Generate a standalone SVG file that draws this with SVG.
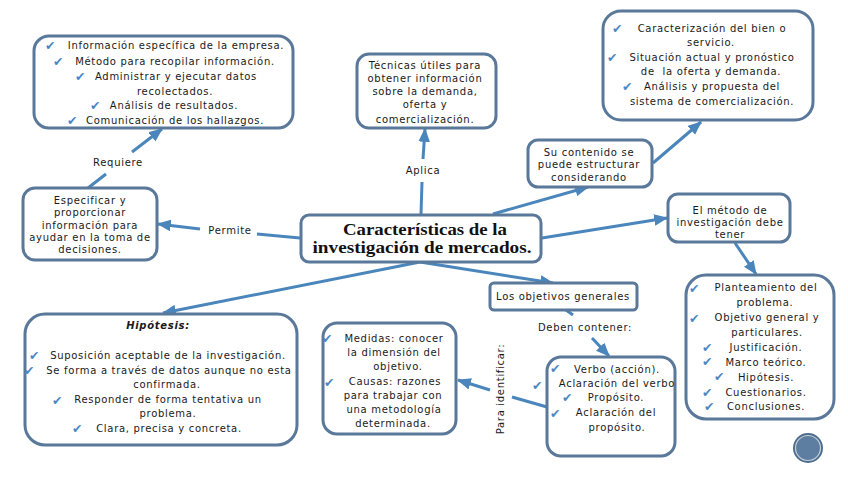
<svg xmlns="http://www.w3.org/2000/svg" width="848" height="477" viewBox="0 0 848 477">
<defs>
<marker id="ah" viewBox="0 0 12 10" refX="11" refY="5" markerWidth="14" markerHeight="12" markerUnits="userSpaceOnUse" orient="auto">
<path d="M0,0 L12,5 L0,10 Z" fill="#4a86bb"/>
</marker>
<style>
.box{fill:#fff;stroke:#5a789a;stroke-width:3}
.t{font-family:"DejaVu Sans","Open Sans",sans-serif;font-size:10px;letter-spacing:0.7px;fill:#1a1a1a;text-anchor:middle}
.ck{font-family:"DejaVu Sans",sans-serif;font-size:12.5px;fill:#4a86c5;font-style:italic}
.c{fill:none;stroke:#4a86bb;stroke-width:3}
.ttl{font-family:"Liberation Serif","DejaVu Serif",serif;font-size:17px;font-weight:bold;fill:#111;text-anchor:middle}
</style>
</defs>
<rect width="848" height="477" fill="#fff"/>

<g id="connectors">
<path class="c" d="M88,188 L106,174"/>
<path class="c" d="M132,152 L162,129" marker-end="url(#ah)"/>
<path class="c" d="M300,238 L257,234"/>
<path class="c" d="M200,229 L158,224" marker-end="url(#ah)"/>
<path class="c" d="M421,214 L422,182"/>
<path class="c" d="M423,159 L425,129" marker-end="url(#ah)"/>
<path class="c" d="M493,214 L588,187" marker-end="url(#ah)"/>
<path class="c" d="M653,163 L701,122" marker-end="url(#ah)"/>
<path class="c" d="M542,238 L667,218" marker-end="url(#ah)"/>
<path class="c" d="M735,243 L756,274" marker-end="url(#ah)"/>
<path class="c" d="M420,262 L553,283" marker-end="url(#ah)"/>
<path class="c" d="M420,262 L163,313" marker-end="url(#ah)"/>
<path class="c" d="M566,310 L573,315"/>
<path class="c" d="M592,338 L609,356" marker-end="url(#ah)"/>
<path class="c" d="M547,407 L512,397"/>
<path class="c" d="M490,390 L458,380" marker-end="url(#ah)"/>
<text class="t" x="118" y="166">Requiere</text>
<text class="t" x="230" y="234">Permite</text>
<text class="t" x="423" y="174">Aplica</text>
<text class="t" x="585" y="331">Deben contener:</text>
<text class="t" transform="translate(504,389) rotate(-90)">Para identificar:</text>
</g>

<g id="n-info">
<rect class="box" x="34" y="36" width="259" height="92" rx="15"/>
<text class="ck" x="45" y="50">✔</text>
<text class="ck" x="53" y="66">✔</text>
<text class="ck" x="75" y="81">✔</text>
<text class="ck" x="90" y="110">✔</text>
<text class="ck" x="67" y="125">✔</text>
<text class="t" x="176" y="49">Información específica de la empresa.</text>
<text class="t" x="175" y="65">Método para recopilar información.</text>
<text class="t" x="176" y="80">Administrar y ejecutar datos</text>
<text class="t" x="175" y="95">recolectados.</text>
<text class="t" x="174" y="109">Análisis de resultados.</text>
<text class="t" x="175" y="124">Comunicación de los hallazgos.</text>
</g>

<g id="n-tecnicas">
<rect class="box" x="357" y="54" width="139" height="74" rx="12"/>
<text class="t" x="425" y="69">Técnicas útiles para</text>
<text class="t" x="425" y="82">obtener información</text>
<text class="t" x="425" y="95">sobre la demanda,</text>
<text class="t" x="425" y="108">oferta y</text>
<text class="t" x="425" y="123">comercialización.</text>
</g>

<g id="n-caract">
<rect class="box" x="603" y="11" width="210" height="109" rx="18"/>
<text class="ck" x="612" y="33">✔</text>
<text class="ck" x="607" y="62">✔</text>
<text class="ck" x="622" y="91">✔</text>
<text class="t" x="712" y="32">Caracterización del bien o</text>
<text class="t" x="711" y="46">servicio.</text>
<text class="t" x="712" y="61">Situación actual y pronóstico</text>
<text class="t" x="711" y="75" xml:space="preserve">de  la oferta y demanda.</text>
<text class="t" x="712" y="90">Análisis y propuesta del</text>
<text class="t" x="712" y="105">sistema de comercialización.</text>
</g>

<g id="n-especificar">
<rect class="box" x="23" y="188" width="134" height="72" rx="12"/>
<text class="t" x="90" y="204">Especificar y</text>
<text class="t" x="90" y="216">proporcionar</text>
<text class="t" x="90" y="229">información para</text>
<text class="t" x="90" y="241">ayudar en la toma de</text>
<text class="t" x="90" y="253">decisiones.</text>
</g>

<g id="n-main">
<rect class="box" x="301" y="215" width="240" height="47" rx="8"/>
<text class="ttl" x="425" y="235" textLength="164" lengthAdjust="spacingAndGlyphs">Características de la</text>
<text class="ttl" x="422" y="253" textLength="219" lengthAdjust="spacingAndGlyphs">investigación de mercados.</text>
</g>

<g id="n-contenido">
<rect class="box" x="528" y="140" width="124" height="47" rx="10"/>
<text class="t" x="589" y="156">Su contenido se</text>
<text class="t" x="589" y="168">puede estructurar</text>
<text class="t" x="589" y="181">considerando</text>
</g>

<g id="n-metodo">
<rect class="box" x="668" y="194" width="122" height="48" rx="10"/>
<text class="t" x="730" y="214">El método de</text>
<text class="t" x="730" y="226">investigación debe</text>
<text class="t" x="730" y="238">tener</text>
</g>

<g id="n-objetivos">
<rect class="box" x="490" y="283" width="147" height="27" rx="4"/>
<text class="t" x="563" y="300">Los objetivos generales</text>
</g>

<g id="n-hipotesis">
<rect class="box" x="25" y="314" width="272" height="131" rx="20"/>
<text class="t" x="158" y="329" style="font-weight:bold;font-style:italic">Hipótesis:</text>
<text class="ck" x="29" y="360">✔</text>
<text class="ck" x="24" y="375">✔</text>
<text class="ck" x="52" y="405">✔</text>
<text class="ck" x="72" y="433">✔</text>
<text class="t" x="168" y="359">Suposición aceptable de la investigación.</text>
<text class="t" x="169" y="374">Se forma a través de datos aunque no esta</text>
<text class="t" x="167" y="388">confirmada.</text>
<text class="t" x="168" y="403">Responder de forma tentativa un</text>
<text class="t" x="168" y="417">problema.</text>
<text class="t" x="169" y="432">Clara, precisa y concreta.</text>
</g>

<g id="n-medidas">
<rect class="box" x="323" y="323" width="133" height="111" rx="14"/>
<text class="ck" x="322" y="343">✔</text>
<text class="ck" x="324" y="387">✔</text>
<text class="t" x="394" y="342">Medidas: conocer</text>
<text class="t" x="394" y="356">la dimensión del</text>
<text class="t" x="398" y="370">objetivo.</text>
<text class="t" x="395" y="385">Causas: razones</text>
<text class="t" x="393" y="399">para trabajar con</text>
<text class="t" x="394" y="413">una metodología</text>
<text class="t" x="393" y="427">determinada.</text>
</g>

<g id="n-verbo">
<rect class="box" x="547" y="357" width="128" height="99" rx="14"/>
<text class="ck" x="550" y="373">✔</text>
<text class="ck" x="532" y="390">✔</text>
<text class="ck" x="562" y="402">✔</text>
<text class="ck" x="550" y="418">✔</text>
<text class="t" x="617" y="373">Verbo (acción).</text>
<text class="t" x="617" y="387">Aclaración del verbo</text>
<text class="t" x="616" y="401">Propósito.</text>
<text class="t" x="616" y="416">Aclaración del</text>
<text class="t" x="617" y="431">propósito.</text>
</g>

<g id="n-planteamiento">
<rect class="box" x="686" y="275" width="148" height="144" rx="20"/>
<text class="ck" x="689" y="293">✔</text>
<text class="ck" x="689" y="323">✔</text>
<text class="ck" x="702" y="352">✔</text>
<text class="ck" x="702" y="366">✔</text>
<text class="ck" x="714" y="381">✔</text>
<text class="ck" x="702" y="397">✔</text>
<text class="ck" x="704" y="411">✔</text>
<text class="t" x="766" y="291">Planteamiento del</text>
<text class="t" x="765" y="306">problema.</text>
<text class="t" x="767" y="321">Objetivo general y</text>
<text class="t" x="767" y="336">particulares.</text>
<text class="t" x="766" y="351">Justificación.</text>
<text class="t" x="766" y="366">Marco teórico.</text>
<text class="t" x="766" y="381">Hipótesis.</text>
<text class="t" x="766" y="396">Cuestionarios.</text>
<text class="t" x="766" y="410">Conclusiones.</text>
</g>

<g id="badge">
<circle cx="808" cy="448" r="15" fill="#4d6d8e"/>
<circle cx="808" cy="448" r="12.5" fill="#5d7ea0" stroke="#c6d0da" stroke-width="1.2"/>
</g>
</svg>
